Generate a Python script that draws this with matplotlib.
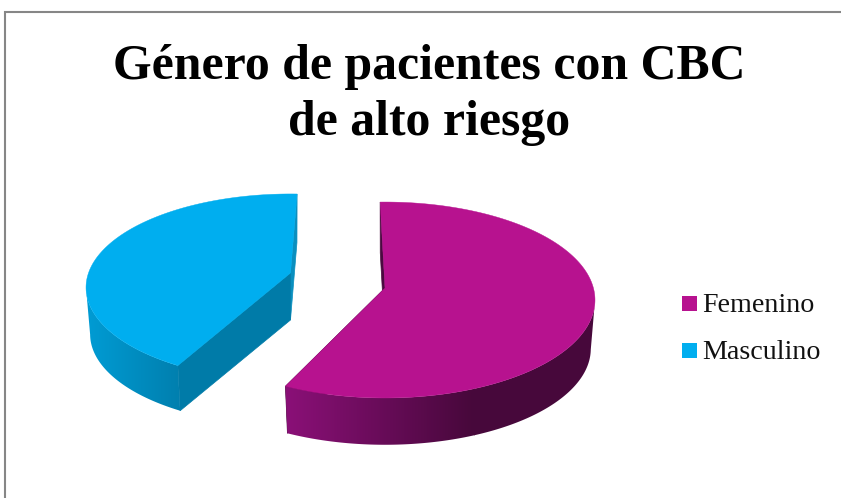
import numpy as np
import matplotlib
matplotlib.use("Agg")
import matplotlib.pyplot as plt
from matplotlib.colors import LinearSegmentedColormap
from matplotlib.patches import Polygon, Rectangle

title = "Género de pacientes con CBC\nde alto riesgo"
labels = ["Femenino", "Masculino"]
values = [57.4, 42.6]

colors = ["#B7128F", "#00AEEF"]
side_light = ["#8A1077", "#009BD3"]
side_dark = ["#47083B", "#007FAE"]
start_face = ["#4A0A3F", "#007BA8"]
end_face = ["#4A0A3F", "#0A8FBF"]

# pie drawing setup, all in pixels
apex = [(385, 288), (290.5, 273)]
first_angle = [-1.5, 208.8]
rx0 = [208.4, 202.0]
ry0 = [96.5, 91.3]
persp = [0.1225, 0.155]
depth = [49, 47]
shrink = 0.98
# x range the wall gradient runs over
grad_x = [(286, 475), (88, 182)]


def project(i, theta):
    # theta in degrees, clockwise from the far side of the pie
    t = np.radians(theta)
    X = np.sin(t)
    Y = -np.cos(t)
    w = 1 - persp[i] * Y
    return rx0[i] * X / w, ry0[i] * Y / w


fig = plt.figure(figsize=(8.41, 4.98), dpi=100)
ax = fig.add_axes([0, 0, 1, 1])
ax.set_xlim(0, 841)
ax.set_ylim(498, 0)
ax.axis("off")

# chart frame, runs off the right and bottom
ax.plot([5.5, 5.5, 841], [498, 12, 12], color="#868686", lw=1.5, solid_joinstyle="miter")

ax.text(429, 95, title, ha="center", va="center", family="Liberation Serif",
        weight="bold", fontsize=35.8, linespacing=1.26, color="black")

for i, val in enumerate(values):
    span = val / sum(values) * 360
    ang = np.linspace(first_angle[i], first_angle[i] + span, 360)
    dx, dy = project(i, ang)
    cx, cy = apex[i]
    top_x = cx + dx
    top_y = cy + dy
    low_x = cx + dx * shrink
    low_y = cy + dy * shrink + depth[i]

    # cut faces of the slice
    ax.add_patch(Polygon([(top_x[-1], top_y[-1]), (cx, cy), (cx, cy + depth[i]),
                          (low_x[-1], low_y[-1])], fc=end_face[i], ec=end_face[i], lw=0.5, zorder=2))
    ax.add_patch(Polygon([(top_x[0], top_y[0]), (cx, cy), (cx, cy + depth[i]),
                          (low_x[0], low_y[0])], fc=start_face[i], ec=start_face[i], lw=0.5, zorder=2))

    # outer wall, horizontal gradient clipped to the part of the rim facing the viewer
    front = np.cos(np.radians(ang)) <= -persp[i]
    wall = np.r_[np.column_stack([top_x[front], top_y[front]]),
                 np.column_stack([low_x[front], low_y[front]])[::-1]]
    wall_patch = Polygon(wall, fc="none", ec="none", zorder=3)
    ax.add_patch(wall_patch)
    cmap = LinearSegmentedColormap.from_list("wall", [side_light[i], side_dark[i]])
    im = ax.imshow(np.linspace(0, 1, 64).reshape(1, -1), cmap=cmap, aspect="auto", zorder=3,
                   extent=(grad_x[i][0], grad_x[i][1], 498, 150), interpolation="bilinear")
    im.set_clip_path(wall_patch)
    # flat colour either side of the gradient range
    rest = Rectangle((grad_x[i][1] - 0.5, 150), 841 - grad_x[i][1], 348, fc=side_dark[i], ec="none", zorder=3)
    ax.add_patch(rest)
    rest.set_clip_path(wall_patch)
    rest2 = Rectangle((0, 150), grad_x[i][0] + 0.5, 348, fc=side_light[i], ec="none", zorder=3)
    ax.add_patch(rest2)
    rest2.set_clip_path(wall_patch)

    # top surface
    pts = np.column_stack([np.r_[cx, top_x], np.r_[cy, top_y]])
    ax.add_patch(Polygon(pts, fc=colors[i], ec=colors[i], lw=0.3, zorder=4))

ax.set_xlim(0, 841)
ax.set_ylim(498, 0)

# legend
legend_y = [303.5, 350.5]
for i, lab in enumerate(labels):
    ax.add_patch(Rectangle((682, legend_y[i] - 7.5), 15, 15, fc=colors[i], ec="none"))
    ax.text(702.5, legend_y[i] + 8.5, lab, family="Liberation Serif", fontsize=20.2,
            va="baseline", ha="left", color="#111111")

fig.savefig("out.png", dpi=100)
